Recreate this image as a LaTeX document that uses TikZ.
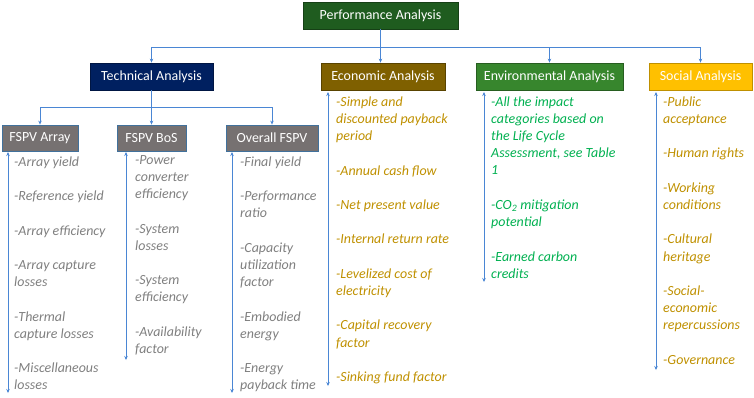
\documentclass[tikz,border=0pt]{standalone}
\usepackage{fontspec}
\setmainfont{Carlito}
\usetikzlibrary{arrows.meta}
\definecolor{perfgreen}{RGB}{31,92,31}
\definecolor{technavy}{RGB}{0,32,96}
\definecolor{econbrown}{RGB}{127,96,0}
\definecolor{envgreen}{RGB}{55,134,45}
\definecolor{socgold}{RGB}{255,192,0}
\definecolor{boxgray}{RGB}{118,113,113}
\definecolor{boxblue}{RGB}{65,113,156}
\definecolor{itemgray}{RGB}{127,127,127}
\definecolor{itemgold}{RGB}{191,144,0}
\definecolor{itemgreen}{RGB}{0,176,80}
\definecolor{linkblue}{RGB}{74,134,212}
\newcommand{\gapln}{\\[17.25bp]}
\begin{document}
\begin{tikzpicture}[x=1bp,y=-1bp,
  head/.style={draw, line width=0.8bp, minimum height=27bp, inner sep=0pt,
    font=\fontsize{14}{16}\selectfont, text=white},
  items/.style={anchor=north west, inner sep=0pt, align=left,
    font=\fontsize{14}{17.25}\selectfont\itshape},
  conn/.style={draw=linkblue, line width=0.8bp},
  arrow/.style={conn, -{Stealth[length=4bp,width=3.5bp]}},
  both/.style={conn, {Stealth[length=4bp,width=3.5bp]}-{Stealth[length=4bp,width=3.5bp]}}]
\useasboundingbox (0,0) rectangle (754,397);
% header boxes
\node[head, fill=perfgreen, draw=perfgreen!70!black, minimum width=155bp] (perf) at (380.5,15.5) {Performance Analysis};
\node[head, fill=technavy, draw=technavy!70!black, minimum width=123bp] (tech) at (151.5,76.5) {Technical Analysis};
\node[head, fill=econbrown, draw=econbrown!70!black, minimum width=124bp] (econ) at (383,76.5) {Economic Analysis};
\node[head, fill=envgreen, draw=envgreen!70!black, minimum width=147bp] (env) at (549.5,76.5) {Environmental Analysis};
\node[head, fill=socgold, draw=itemgold, minimum width=103bp] (soc) at (700.5,76.5) {Social Analysis};
\node[head, fill=boxgray, draw=boxblue, minimum width=76bp, minimum height=26bp] (arr) at (40,138) {FSPV Array};
\node[head, fill=boxgray, draw=boxblue, minimum width=69bp, minimum height=26bp] (bos) at (151.5,138) {FSPV BoS};
\node[head, fill=boxgray, draw=boxblue, minimum width=92bp, minimum height=26bp] (ovr) at (272,138) {Overall FSPV};
% top level connectors
\coordinate (bus) at (0,47);
\draw[conn] (tech.north |- bus) -- (soc.north |- bus);
\draw[arrow] (perf.south) -- (perf.south |- econ.north);
\draw[arrow] (tech.north |- bus) -- (tech.north);
\draw[arrow] (env.north |- bus) -- (env.north);
\draw[arrow] (soc.north |- bus) -- (soc.north);
% technical connectors
\coordinate (bustwo) at (0,107);
\draw[conn] (arr.north |- bustwo) -- (ovr.north |- bustwo);
\draw[arrow] (tech.south) -- (bos.north);
\draw[arrow] (arr.north |- bustwo) -- (arr.north);
\draw[arrow] (ovr.north |- bustwo) -- (ovr.north);
% item lines
\coordinate (arrtop) at (8,152);   \coordinate (arrbot) at (8,393);
\coordinate (bostop) at (126,152); \coordinate (bosbot) at (126,360);
\coordinate (ovrtop) at (232,152); \coordinate (ovrbot) at (232,393);
\coordinate (econtop) at (328,92); \coordinate (econbot) at (328,386);
\coordinate (envtop) at (484,92);  \coordinate (envbot) at (484,282);
\coordinate (soctop) at (656,92);  \coordinate (socbot) at (656,370);
\draw[both] (arrtop) -- (arrbot);
\draw[both] (bostop) -- (bosbot);
\draw[both] (ovrtop) -- (ovrbot);
\draw[both] (econtop) -- (econbot);
\draw[both] (envtop) -- (envbot);
\draw[both] (soctop) -- (socbot);
% item texts
\node[items, text=itemgray] (arrtxt) at (14,154) {\strut-Array yield\gapln-Reference yield\gapln-Array efficiency\gapln-Array capture\\losses\gapln-Thermal\\capture losses\gapln-Miscellaneous\\losses};
\node[items, text=itemgray] (bostxt) at (135,152) {\strut-Power\\converter\\efficiency\gapln-System\\losses\gapln-System\\efficiency\gapln-Availability\\factor};
\node[items, text=itemgray] (ovrtxt) at (240,154) {\strut-Final yield\gapln-Performance\\ratio\gapln-Capacity\\utilization\\factor\gapln-Embodied\\energy\gapln-Energy\\payback time};
\node[items, text=itemgold] (econtxt) at (336,94) {\strut-Simple and\\discounted payback\\period\gapln-Annual cash flow\gapln-Net present value\gapln-Internal return rate\gapln-Levelized cost of\\electricity\gapln-Capital recovery\\factor\gapln-Sinking fund factor};
\node[items, text=itemgreen] (envtxt) at (491,94) {\strut-All the impact\\categories based on\\the Life Cycle\\Assessment, see Table\\1\gapln-CO\textsubscript{2} mitigation\\potential\gapln-Earned carbon\\credits};
\node[items, text=itemgold] (soctxt) at (663,94) {\strut-Public\\acceptance\gapln-Human rights\gapln-Working\\conditions\gapln-Cultural\\heritage\gapln-Social-\\economic\\repercussions\gapln-Governance};
\end{tikzpicture}
\end{document}
